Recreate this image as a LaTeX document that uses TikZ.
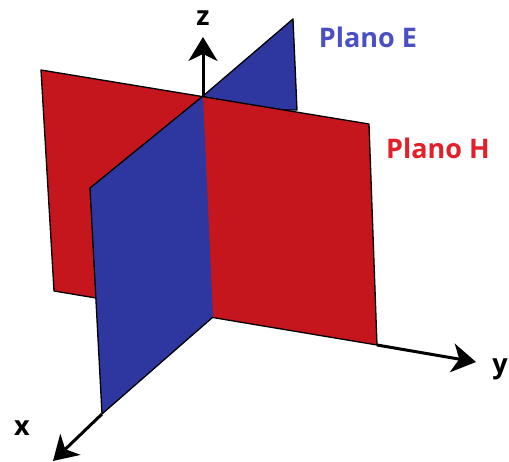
\documentclass[tikz,border=0pt]{standalone}
\usepackage{fontspec}
\setmainfont{Open Sans}
\usetikzlibrary{arrows.meta}
\definecolor{pred}{HTML}{C4161C}
\definecolor{pblue}{HTML}{2E369F}
\definecolor{tred}{HTML}{E3202A}
\definecolor{tblue}{HTML}{4B4FC4}
\tikzset{
  plane/.style={draw=black,line width=1.3pt,line join=round},
  edge/.style={draw=black,line width=1.3pt,line join=round},
  axis/.style={draw=black,line width=3pt,-{Stealth[length=24pt,width=29pt,inset=7pt]}},
  lbl/.style={font=\bfseries\fontsize{27}{30}\selectfont,inner sep=0pt,anchor=center},
}
\begin{document}
\begin{tikzpicture}[x=1pt,y=-1pt]
\useasboundingbox (0,0) rectangle (509,462);
\coordinate (O) at (203,96);
\coordinate (Ob) at (213,317);
\coordinate (zt) at (203,37);
\coordinate (yt) at (476,362);
\coordinate (xt) at (53,461);
% back blue
\fill[pblue,plane] (O) -- (293,19) -- (297,110) -- (230,110) -- cycle;
% z axis
\draw[axis] (O) -- (zt);
% red plane
\fill[pred,plane] (41,70) -- (369,124) -- (377,345) -- (54,291) -- cycle;
% y axis
\draw[axis] (377,345) -- (yt);
% front blue
\fill[pblue] (O) -- (90,188) -- (102,414) -- (Ob) -- cycle;
\draw[edge] (O) -- (90,188) -- (102,414) -- (Ob);
% x axis
\draw[axis] (102,414) -- (xt);
\node[lbl,text=black] (zl) at (203,18) {z};
\node[lbl,text=black] (yl) at (500,369) {y};
\node[lbl,text=black] (xl) at (22,428) {x};
\node[lbl,text=tblue] (pe) at (368,37) {Plano E};
\node[lbl,text=tred] (ph) at (438,148) {Plano H};
\end{tikzpicture}
\end{document}
